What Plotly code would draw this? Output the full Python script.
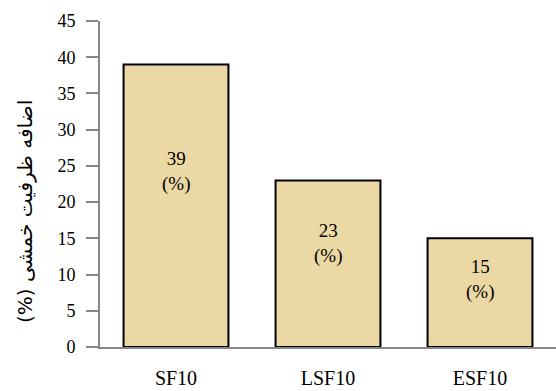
import plotly.graph_objects as go

categories = ["SF10", "LSF10", "ESF10"]
values = [39, 23, 15]
y_ticks = [0, 5, 10, 15, 20, 25, 30, 35, 40, 45]
y_title = "(%) اضافه ظرفیت خمشی"
label_suffix = "(%)"

fig = go.Figure()
fig.add_trace(go.Bar(
    x=categories, y=values,
    marker=dict(color="#ECD8A4", line=dict(color="black", width=2)),
    width=0.69,
    hoverinfo="skip",
))

for c, v in zip(categories, values):
    fig.add_annotation(x=c, y=v * 0.62, text=f"{v}<br>{label_suffix}", showarrow=False,
                       font=dict(family="Liberation Serif", size=19, color="black"),
                       xref="x", yref="y")

# y-axis title (placed slightly below the plot centre, as in the reference)
fig.add_annotation(x=0, y=0.414, xref="paper", yref="paper", xshift=-75,
                   text=y_title, textangle=-90, showarrow=False,
                   xanchor="center", yanchor="middle",
                   font=dict(family="DejaVu Sans", size=20, color="black"))

fig.update_layout(
    width=556, height=391,
    margin=dict(l=100, r=0, t=21, b=44, autoexpand=False),
    paper_bgcolor="white", plot_bgcolor="white",
    showlegend=False,
    font=dict(family="Liberation Serif", size=17, color="black"),
)
fig.update_xaxes(
    showline=True, linecolor="#878787", linewidth=2,
    ticks="", showgrid=False, automargin=False,
    tickfont=dict(family="Liberation Serif", size=20, color="black"),
    ticklabelstandoff=12,
)
fig.update_yaxes(
    range=[0, 45], tickvals=y_ticks, automargin=False,
    showline=True, linecolor="#878787", linewidth=2,
    ticks="outside", ticklen=12, tickcolor="#878787", tickwidth=1.5,
    showgrid=False, zeroline=False,
    tickfont=dict(family="Liberation Serif", size=18, color="black"),
    ticklabelstandoff=7,
)

fig.write_html("out.html", config={"displayModeBar": False},
               post_script="document.body.style.margin='0';document.body.style.overflow='hidden';")
